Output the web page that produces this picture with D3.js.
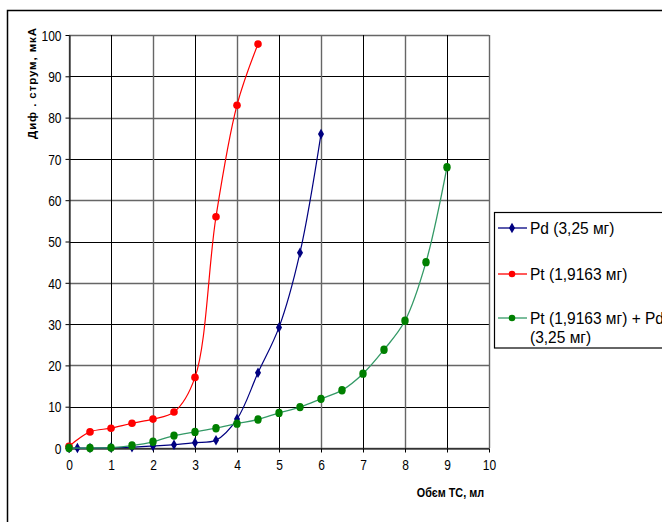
<!DOCTYPE html>
<html><head><meta charset="utf-8">
<script src="https://cdn.jsdelivr.net/npm/d3@7"></script>
<style>
html,body{margin:0;padding:0;background:#fff;}
svg{display:block;}
text{font-family:"Liberation Sans",Arial,sans-serif;fill:#000;}
</style></head>
<body>
<svg id="chart" width="662" height="522"></svg>
<script>
const xTicks = [0,1,2,3,4,5,6,7,8,9,10];
const yTicks = [0,10,20,30,40,50,60,70,80,90,100];

const pdX = [0,0.2,0.5,1,1.5,2,2.5,3,3.5,4,4.5,5,5.5,6];
const pdY = [0,0,0,0.1,0.2,0.5,0.8,1.3,1.9,7,18.2,29.2,47.3,76];

const ptX = [0,0.5,1,1.5,2,2.5,3,3.5,4,4.5];
const ptY = [0.4,3.9,4.8,6,7,8.7,17.1,56,83,97.8];

const mixX = [0,0.5,1,1.5,2,2.5,3,3.5,4,4.5,5,5.5,6,6.5,7,7.5,8,8.5,9];
const mixY = [0,0,0.1,0.6,1.5,3,3.9,4.8,5.9,6.9,8.5,9.9,11.9,14,18,23.8,30.8,45,68];

const seriesNames = ["Pd (3,25 мг)", "Pt (1,9163 мг)", "Pt (1,9163 мг) + Pd", "(3,25 мг)"];
const xTitle = "Обєм ТС, мл";
const yTitle = "Диф . струм, мкА";

const svg = d3.select("#chart");
const L = 69, R = 489, T = 35, B = 448;
const x = d3.scaleLinear().domain([0,10]).range([L,R]);
const y = d3.scaleLinear().domain([0,100]).range([B,T]);

// outer border
svg.append("rect").attr("x",7.5).attr("y",10.5).attr("width",700).attr("height",600)
  .attr("fill","none").attr("stroke","#000").attr("stroke-width",1.5);

// grid
const g = svg.append("g");
g.selectAll(".hg").data(yTicks).join("line")
  .attr("x1",L).attr("x2",R).attr("y1",d=>Math.round(y(d))+0.5).attr("y2",d=>Math.round(y(d))+0.5)
  .attr("stroke",(d,i)=> i%2? "#000":"#666").attr("stroke-width",(d,i)=> i%2?1:1.4);
g.selectAll(".vg").data(xTicks).join("line")
  .attr("y1",T).attr("y2",B).attr("x1",d=>Math.round(x(d))+0.5).attr("x2",d=>Math.round(x(d))+0.5)
  .attr("stroke",(d,i)=> i%2? "#000":"#666").attr("stroke-width",(d,i)=> i%2?1:1.4);

// axes
const yAxis = d3.axisLeft(y).tickValues(yTicks).tickSize(4).tickSizeOuter(0).tickPadding(4);
const xAxis = d3.axisBottom(x).tickValues(xTicks).tickSize(4).tickSizeOuter(0).tickPadding(7);
const ya = svg.append("g").attr("transform",`translate(${L+0.5},0)`).call(yAxis);
const xa = svg.append("g").attr("transform",`translate(0,${B+0.5})`).call(xAxis);
[ya,xa].forEach(a=>{
  a.select(".domain").attr("stroke","#000");
  a.selectAll(".tick line").attr("stroke","#000");
  a.selectAll(".tick text").attr("font-size",15).attr("font-family","Liberation Sans, Arial, sans-serif").attr("fill","#222");
});
ya.selectAll(".tick text").attr("transform","scale(0.8,1)").attr("x", -8/0.8).attr("dy","0.35em");
xa.selectAll(".tick text").attr("transform","scale(0.8,1)");

// titles
svg.append("text").attr("transform","translate(484,497) scale(0.9,1)").attr("text-anchor","end")
  .attr("font-size",12).attr("font-weight","bold").text(xTitle);
svg.append("text").attr("transform","translate(36,83) rotate(-90)").attr("text-anchor","middle")
  .attr("font-size",11.5).attr("font-weight","bold").attr("letter-spacing",0.9).text(yTitle);

// series
const line = d3.line().x(d=>x(d[0])).y(d=>y(d[1])).curve(d3.curveCatmullRom.alpha(0.5));
const pd = pdX.map((v,i)=>[v,pdY[i]]);
const pt = ptX.map((v,i)=>[v,ptY[i]]);
const mx = mixX.map((v,i)=>[v,mixY[i]]);
const diamond = d3.symbol().type(d3.symbolDiamond).size(32);

svg.append("path").datum(pd).attr("d",line).attr("fill","none").attr("stroke","#000080").attr("stroke-width",1.2);
svg.append("g").selectAll("path").data(pd).join("path").attr("d",diamond)
  .attr("transform",d=>`translate(${x(d[0])},${y(d[1])})`).attr("fill","#000080");

svg.append("path").datum(pt).attr("d",line).attr("fill","none").attr("stroke","#ff0000").attr("stroke-width",1.2);
svg.append("g").selectAll("circle").data(pt).join("circle")
  .attr("cx",d=>x(d[0])).attr("cy",d=>y(d[1])).attr("r",3.8).attr("fill","#ff0000");

svg.append("path").datum(mx).attr("d",line).attr("fill","none").attr("stroke","#339966").attr("stroke-width",1.3);
svg.append("g").selectAll("ellipse").data(mx).join("ellipse")
  .attr("cx",d=>x(d[0])).attr("cy",d=>y(d[1])).attr("rx",3.7).attr("ry",4.2).attr("fill","#008000");

// legend
svg.append("rect").attr("x",494.5).attr("y",212.5).attr("width",200).attr("height",135.5)
  .attr("fill","#fff").attr("stroke","#000").attr("stroke-width",1.2);
const leg = [
  {c:"#000080", lc:"#000080", m:"d", y:228, t:[seriesNames[0]]},
  {c:"#ff0000", lc:"#ff0000", m:"c", y:274, t:[seriesNames[1]]},
  {c:"#008000", lc:"#339966", m:"c", y:318, t:[seriesNames[2], seriesNames[3]]}
];
leg.forEach(e=>{
  svg.append("line").attr("x1",498).attr("x2",527).attr("y1",e.y).attr("y2",e.y).attr("stroke",e.lc).attr("stroke-width",1.3);
  if(e.m==="d") svg.append("path").attr("d",diamond).attr("transform",`translate(512,${e.y})`).attr("fill",e.c);
  else svg.append("circle").attr("cx",512).attr("cy",e.y).attr("r",3.3).attr("fill",e.c);
  e.t.forEach((s,i)=>{
    svg.append("text").attr("transform",`translate(530,${e.y+5.5+i*19}) scale(0.97,1)`)
      .attr("font-size",16).text(s);
  });
});
</script>
</body></html>
